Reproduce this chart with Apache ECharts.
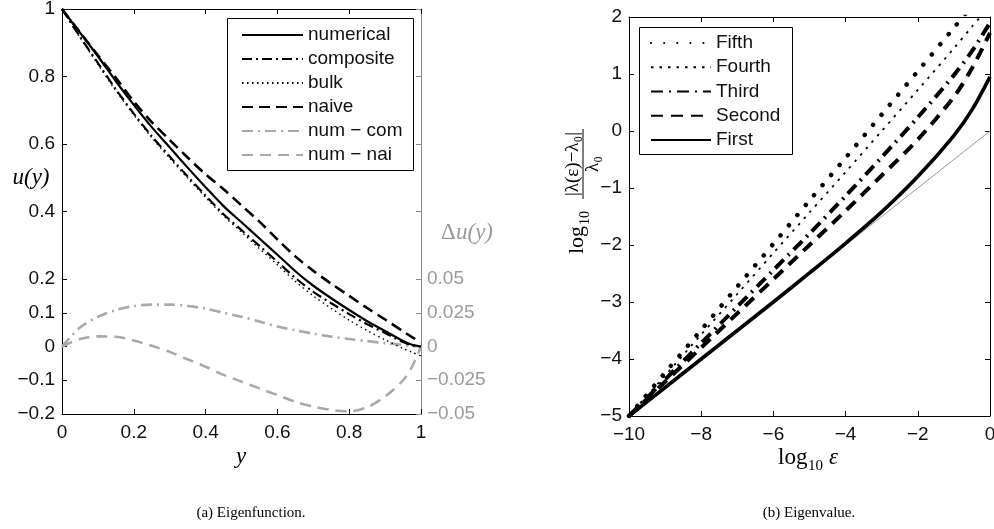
<!DOCTYPE html>
<html><head><meta charset="utf-8">
<script src="https://cdn.jsdelivr.net/npm/echarts@6/dist/echarts.min.js"></script>
<style>html,body{margin:0;padding:0;background:#fff}#c{width:994px;height:529px}</style>
</head><body><div id="c"></div>
<script>
// ---------- (a) Eigenfunction ----------
const yGrid     = [0,0.05,0.1,0.15,0.2,0.25,0.3,0.35,0.4,0.45,0.5,0.55,0.6,0.65,0.7,0.75,0.8,0.85,0.9,0.95,0.975,1];
const numerical = [1.000,0.930,0.860,0.786,0.716,0.650,0.590,0.530,0.472,0.416,0.368,0.320,0.272,0.223,0.180,0.143,0.108,0.075,0.046,0.016,0.005,0.000];
const composite = [1.000,0.918,0.840,0.762,0.690,0.623,0.563,0.504,0.447,0.392,0.345,0.298,0.251,0.203,0.162,0.128,0.096,0.066,0.040,0.013,0.004,0.000];
const bulk      = [1.000,0.916,0.836,0.758,0.686,0.619,0.558,0.499,0.442,0.387,0.339,0.290,0.242,0.193,0.150,0.113,0.078,0.047,0.020,-0.006,-0.017,-0.028];
const naive     = [1.000,0.931,0.863,0.796,0.726,0.665,0.612,0.560,0.510,0.466,0.418,0.370,0.317,0.267,0.224,0.186,0.150,0.114,0.080,0.045,0.028,0.012];
const numCom    = [0,0.014,0.022,0.027,0.030,0.031,0.031,0.030,0.028,0.025,0.022,0.0185,0.0148,0.012,0.0095,0.0073,0.0055,0.004,0.0025,0.0012,0.0005,0];
const numNai    = [0,0.0055,0.0075,0.0072,0.0045,0.0005,-0.004,-0.0095,-0.015,-0.021,-0.026,-0.031,-0.036,-0.041,-0.0445,-0.047,-0.048,-0.045,-0.037,-0.025,-0.015,0];
const uTicks    = [-0.2,-0.1,0,0.1,0.2,0.4,0.6,0.8,1];
const duTicks   = [-0.05,-0.025,0,0.025,0.05];

// ---------- (b) Eigenvalue ----------
const epsGrid = [-10,-9,-8,-7,-6,-5,-4,-3,-2,-1,-0.5,0];
const first   = [-5,-4.5,-4,-3.5,-3,-2.49,-1.97,-1.42,-0.80,-0.08,0.37,0.95];
const second  = [-5,-4.4,-3.8,-3.2,-2.6,-2.0,-1.4,-0.78,-0.15,0.60,1.10,1.72];
const third   = [-5,-4.36,-3.72,-3.08,-2.44,-1.80,-1.14,-0.46,0.24,0.98,1.40,1.90];
const fourth  = [-5,-4.29,-3.57,-2.86,-2.14,-1.43,-0.72,0.00,0.72,1.45,1.83,2.20];
const fifth   = [-5,-4.24,-3.49,-2.73,-1.98,-1.22,-0.47,0.29,1.05,1.81,2.20,2.60];
const refX    = [-10,0];
const refY    = [-5,0];

const pairs = (xs, ys) => xs.map((x, i) => [x, ys[i]]);
const fmt = v => String(+(+v).toFixed(4)).replace('-', '\u2212');
const SANS = 'Liberation Sans';
const SERIF = '"Liberation Serif", "DejaVu Serif", serif';
const lblStyle = {fontSize: 19, fontFamily: SANS, color: '#111'};

const chart = echarts.init(document.getElementById('c'), null, {renderer: 'canvas'});

function line(name, data, xi, yi, color, width, type, extra) {
  return Object.assign({
    name, type: 'line', data, xAxisIndex: xi, yAxisIndex: yi,
    symbol: 'none', showSymbol: false, smooth: 0.3, clip: true, animation: false,
    lineStyle: {color, width, type}, itemStyle: {color}
  }, extra || {});
}
function xAx(grid, min, max, interval, pos, labels) {
  return {gridIndex: grid, type: 'value', min, max, interval, position: pos,
    axisLine: {onZero: false, lineStyle: {color: '#000', width: 1}},
    axisTick: {inside: true, length: 5, lineStyle: {color: '#000'}},
    axisLabel: labels ? Object.assign({margin: 9, formatter: fmt}, lblStyle) : {show: false},
    splitLine: {show: false}};
}

const option = {
  animation: false,
  backgroundColor: '#fff',
  grid: [
    {left: 62, top: 9, width: 359, height: 405, outerBoundsMode: 'none'},
    {left: 629, top: 17, width: 361, height: 399, outerBoundsMode: 'none'}
  ],
  xAxis: [
    xAx(0, 0, 1, 0.2, 'bottom', true),
    xAx(0, 0, 1, 0.2, 'top', false),
    xAx(1, -10, 0, 2, 'bottom', true),
    xAx(1, -10, 0, 2, 'top', false)
  ],
  yAxis: [
    {gridIndex: 0, type: 'value', min: -0.2, max: 1, position: 'left',
     axisLine: {show: true, onZero: false, lineStyle: {color: '#000', width: 1}},
     axisTick: {show: true, inside: true, length: 5, customValues: uTicks, lineStyle: {color: '#000'}},
     axisLabel: Object.assign({margin: 7, customValues: uTicks, formatter: fmt}, lblStyle), splitLine: {show: false}},
    {gridIndex: 0, type: 'value', min: -0.05, max: 0.25, position: 'right',
     axisLine: {show: true, onZero: false, lineStyle: {color: '#8c8c8c', width: 1}},
     axisTick: {show: true, inside: true, length: 5, customValues: duTicks, lineStyle: {color: '#8c8c8c'}},
     axisLabel: Object.assign({}, lblStyle, {margin: 6, customValues: duTicks, formatter: fmt, color: '#9a9a9a'}), splitLine: {show: false}},
    {gridIndex: 0, type: 'value', min: -0.2, max: 1, position: 'right',
     axisLine: {show: false, onZero: false},
     axisTick: {show: true, inside: true, length: 5, customValues: uTicks, lineStyle: {color: '#8c8c8c'}},
     axisLabel: {show: false}, splitLine: {show: false}},
    {gridIndex: 1, type: 'value', min: -5, max: 2, interval: 1, position: 'left',
     axisLine: {show: true, onZero: false, lineStyle: {color: '#000', width: 1}},
     axisTick: {show: true, inside: true, length: 5, lineStyle: {color: '#000'}},
     axisLabel: Object.assign({margin: 7, formatter: fmt}, lblStyle), splitLine: {show: false}},
    {gridIndex: 1, type: 'value', min: -5, max: 2, interval: 1, position: 'right',
     axisLine: {show: true, onZero: false, lineStyle: {color: '#000', width: 1}},
     axisTick: {show: true, inside: true, length: 5, lineStyle: {color: '#000'}},
     axisLabel: {show: false}, splitLine: {show: false}}
  ],
  legend: [
    {data: ['numerical', 'composite', 'bulk', 'naive', 'num \u2212 com', 'num \u2212 nai'],
     orient: 'vertical', left: 241, top: 23, padding: 0, itemWidth: 61, itemHeight: 14, itemGap: 0,
     itemStyle: {opacity: 0}, selectedMode: false,
     textStyle: {fontSize: 19, fontFamily: SANS, color: '#111', lineHeight: 24}},
    {data: ['Fifth', 'Fourth', 'Third', 'Second', 'First'],
     orient: 'vertical', left: 650, top: 31, padding: 0, itemWidth: 60, itemHeight: 14, itemGap: 0.25,
     itemStyle: {opacity: 0}, selectedMode: false,
     textStyle: {fontSize: 19, fontFamily: SANS, color: '#111', lineHeight: 24}}
  ],
  series: [
    line('num \u2212 com', pairs(yGrid, numCom), 0, 1, '#a9a9a9', 2.6, [11, 5, 2, 5]),
    line('num \u2212 nai', pairs(yGrid, numNai), 0, 1, '#a9a9a9', 2.6, [11, 7]),
    line('bulk', pairs(yGrid, bulk), 0, 0, '#000', 1.4, [1.5, 3.5]),
    line('composite', pairs(yGrid, composite), 0, 0, '#000', 2.2, [10, 4, 2, 4]),
    line('naive', pairs(yGrid, naive), 0, 0, '#000', 2.6, [11, 6]),
    line('numerical', pairs(yGrid, numerical), 0, 0, '#000', 2.2, 'solid'),

    line('', pairs(refX, refY), 2, 3, '#9a9a9a', 1, 'solid', {smooth: false, z: 1}),
    line('Fifth', pairs(epsGrid, fifth), 2, 3, '#000', 4.5, [0.1, 13], {lineStyle: {color: '#000', width: 4.5, type: [0.1, 13], cap: 'round'}}),
    line('Fourth', pairs(epsGrid, fourth), 2, 3, '#000', 1.8, [2.5, 6]),
    line('Third', pairs(epsGrid, third), 2, 3, '#000', 4, [12, 6, 2, 6]),
    line('Second', pairs(epsGrid, second), 2, 3, '#000', 4, [12, 8]),
    line('First', pairs(epsGrid, first), 2, 3, '#000', 3.6, 'solid')
  ],
  graphic: [
    {type: 'rect', z: 3, shape: {x: 227.5, y: 18.5, width: 186, height: 152}, style: {fill: '#fff', stroke: '#000', lineWidth: 1}},
    {type: 'rect', z: 3, shape: {x: 639.5, y: 27.5, width: 153, height: 127}, style: {fill: '#fff', stroke: '#000', lineWidth: 1}},
    {type: 'text', z: 5, x: 31, y: 178, style: {text: 'u(y)', font: 'italic 23px ' + SERIF, fill: '#000', align: 'center', verticalAlign: 'middle'}},
    {type: 'text', z: 5, x: 241, y: 457, style: {text: 'y', font: 'italic 23px ' + SERIF, fill: '#000', align: 'center', verticalAlign: 'middle'}},
    {type: 'text', z: 5, x: 441, y: 233, style: {text: '\u0394', font: '23px ' + SERIF, fill: '#9a9a9a', align: 'left', verticalAlign: 'middle'}},
    {type: 'text', z: 5, x: 456, y: 233, style: {text: 'u(y)', font: 'italic 23px ' + SERIF, fill: '#9a9a9a', align: 'left', verticalAlign: 'middle'}},
    {type: 'group', x: 778, y: 458, children: [
      {type: 'text', x: 0, y: 0, style: {text: 'log', font: '23px ' + SERIF, fill: '#000', align: 'left', verticalAlign: 'middle'}},
      {type: 'text', x: 30, y: 8, style: {text: '10', font: '15px ' + SERIF, fill: '#000', align: 'left', verticalAlign: 'middle'}},
      {type: 'text', x: 51, y: 0, style: {text: '\u03b5', font: 'italic 23px ' + SERIF, fill: '#000', align: 'left', verticalAlign: 'middle'}}
    ]},
    {type: 'group', x: 583, y: 200, rotation: Math.PI / 2, children: [
      {type: 'text', x: -54, y: -6, style: {text: 'log', font: '22px ' + SERIF, fill: '#000', align: 'left', verticalAlign: 'middle'}},
      {type: 'text', x: -25, y: 2, style: {text: '10', font: '14px ' + SERIF, fill: '#000', align: 'left', verticalAlign: 'middle'}},
      {type: 'line', shape: {x1: 1, y1: 0, x2: 71, y2: 0}, style: {stroke: '#000', lineWidth: 1}},
      {type: 'text', x: 36, y: -10, style: {text: '|\u03bb(\u03b5)\u2212\u03bb\u2080|', font: '19px ' + SERIF, fill: '#000', align: 'center', verticalAlign: 'middle'}},
      {type: 'text', x: 36, y: 10, style: {text: '\u03bb\u2080', font: '19px ' + SERIF, fill: '#000', align: 'center', verticalAlign: 'middle'}}
    ]},
    {type: 'text', z: 5, x: 251, y: 513, style: {text: '(a) Eigenfunction.', font: '15px ' + SERIF, fill: '#000', align: 'center', verticalAlign: 'middle'}},
    {type: 'text', z: 5, x: 809, y: 513, style: {text: '(b) Eigenvalue.', font: '15px ' + SERIF, fill: '#000', align: 'center', verticalAlign: 'middle'}}
  ]
};
chart.setOption(option);
</script>
</body></html>
